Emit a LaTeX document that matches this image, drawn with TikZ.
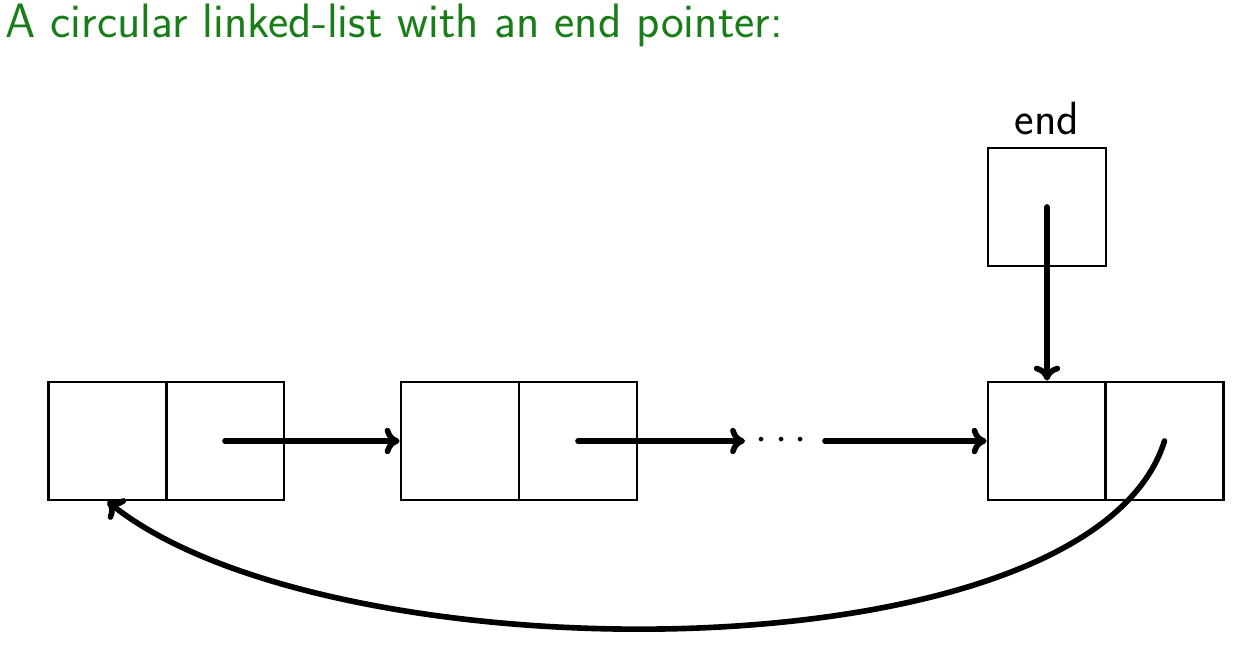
\documentclass[tikz,border=0pt]{standalone}
\usepackage{amsmath,amssymb}
\usepackage{tikz}
\usetikzlibrary{arrows.meta}
\definecolor{titlegreen}{RGB}{25,125,25}

\begin{document}
\begin{tikzpicture}[x=0.02cm, y=-0.02cm,
    cell/.style={draw, line width=1.6pt, minimum size=2.36cm, inner sep=0pt},
    link/.style={line width=3.2pt, line cap=round,
      -{Computer Modern Rightarrow[length=8.5pt, width=15pt]}},
    font=\sffamily\fontsize{26.5}{32}\selectfont]
  \useasboundingbox (0,0) rectangle (1242,648);
  \node[anchor=base west, text=titlegreen, inner sep=0pt, font=\sffamily\fontsize{27.5}{33}\selectfont] (title) at (5,38) {A circular linked-list with an end pointer:};
  % list nodes
  \node[cell] (n1a) at (107.5,441) {};
  \node[cell] (n1b) at (225,441) {};
  \node[cell] (n2a) at (460,441) {};
  \node[cell] (n2b) at (578,441) {};
  \node[cell] (n3a) at (1047,441) {};
  \node[cell] (n3b) at (1164.5,441) {};
  % end pointer
  \node[cell] (endp) at (1047,207) {};
  \node[anchor=base, inner sep=0pt] (endlbl) at (1047,135) {end};
  \node[inner sep=0pt, font=\fontsize{24.5}{30}\selectfont] (dots) at (785,441) {$\cdots$};
  \coordinate (d1) at (745,441);
  \coordinate (d2) at (825,441);
  % links
  \draw[link] (n1b.center) -- (n2a.west);
  \draw[link] (n2b.center) -- (d1);
  \draw[link] (d2) -- (n3a.west);
  \draw[link] (endp.center) -- (n3a.north);
  \draw[link] (n3b.center) .. controls (1090,680) and (330,680) .. (n1a.south);
\end{tikzpicture}
\end{document}
